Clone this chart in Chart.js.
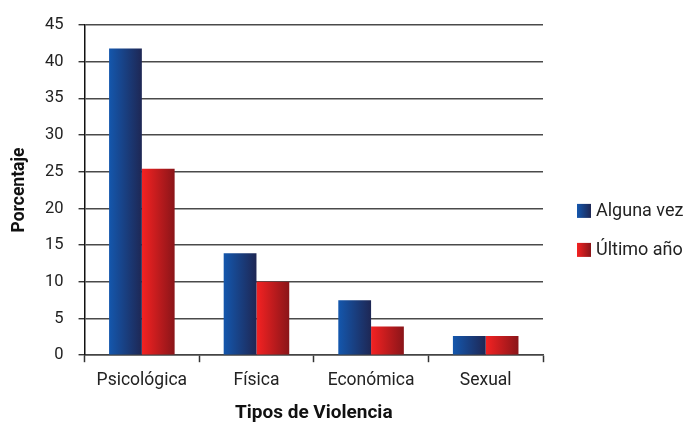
<!DOCTYPE html>
<html>
<head>
<meta charset="utf-8">
<script src="https://cdn.jsdelivr.net/npm/chart.js@4"></script>
<style>
  html, body { margin: 0; padding: 0; background: #fff; }
  #wrap { width: 688px; height: 426px; }
</style>
</head>
<body>
<div id="wrap"><canvas id="c" width="688" height="426"></canvas></div>
<script>
const categories = ['Psicológica', 'Física', 'Económica', 'Sexual'];
const seriesNames = ['Alguna vez', 'Último año'];
const algunaVez = [41.8, 13.9, 7.5, 2.6];
const ultimoAno = [25.4, 10.0, 3.9, 2.6];
const yTicks = [0, 5, 10, 15, 20, 25, 30, 35, 40, 45];

const FONT = 'Roboto, "DejaVu Sans", sans-serif';
const CAT_PCT = 0.572;
const gradStops = [
  ['#1457ad', '#1e2754'],
  ['#f42222', '#8a1519']
];

function barGradient(ctx, dsIndex) {
  const chart = ctx.chart;
  const xs = chart.scales && chart.scales.x;
  if (!chart.chartArea || !xs || ctx.dataIndex === undefined) return gradStops[dsIndex][0];
  const center = xs.getPixelForValue(ctx.dataIndex);
  const catW = xs.width / categories.length;
  const groupW = catW * CAT_PCT;
  const barW = groupW / 2;
  const left = center - groupW / 2 + dsIndex * barW;
  const g = chart.ctx.createLinearGradient(left, 0, left + barW, 0);
  g.addColorStop(0, gradStops[dsIndex][0]);
  g.addColorStop(1, gradStops[dsIndex][1]);
  return g;
}

const legendPlugin = {
  id: 'customLegend',
  afterDraw(chart) {
    const c = chart.ctx;
    const area = chart.chartArea;
    const x0 = area.right + 34;
    const ys = [area.top + 186, area.top + 225];
    c.save();
    c.font = '18px ' + FONT;
    c.textBaseline = 'middle';
    c.textAlign = 'left';
    seriesNames.forEach((name, i) => {
      const y = ys[i];
      const g = c.createLinearGradient(x0, 0, x0 + 14, 0);
      g.addColorStop(0, gradStops[i][0]);
      g.addColorStop(1, gradStops[i][1]);
      c.fillStyle = g;
      c.fillRect(x0, y - 7, 14, 14);
      c.fillStyle = '#222';
      c.fillText(name, x0 + 19, y + 1);
    });
    c.restore();
  }
};

new Chart(document.getElementById('c'), {
  type: 'bar',
  data: {
    labels: categories,
    datasets: [
      { label: seriesNames[0], data: algunaVez, backgroundColor: (ctx) => barGradient(ctx, 0), borderWidth: 0 },
      { label: seriesNames[1], data: ultimoAno, backgroundColor: (ctx) => barGradient(ctx, 1), borderWidth: 0 }
    ]
  },
  options: {
    responsive: false,
    animation: false,
    devicePixelRatio: 1,
    layout: { padding: { top: 8, right: 145, left: 9, bottom: 1 } },
    datasets: { bar: { categoryPercentage: CAT_PCT, barPercentage: 1 } },
    plugins: {
      legend: { display: false },
      tooltip: { enabled: false }
    },
    scales: {
      x: {
        offset: true,
        grid: { display: true, drawOnChartArea: false, drawTicks: true, tickLength: 7, tickColor: '#333', tickWidth: 1.5, offset: true },
        border: { display: true, color: '#444', width: 1.5 },
        ticks: { color: '#222', font: { family: FONT, size: 17.5 }, padding: 8 },
        title: { display: true, text: 'Tipos de Violencia', color: '#111', font: { family: FONT, size: 19, weight: 'bold' }, padding: { top: 3, bottom: 0 } }
      },
      y: {
        min: 0,
        max: 45,
        afterBuildTicks(axis) { axis.ticks = yTicks.map(v => ({ value: v })); },
        grid: { color: '#4a4a4a', lineWidth: 1.5, drawTicks: true, tickLength: 6, tickColor: '#111', tickWidth: 1.2 },
        border: { display: true, color: '#111', width: 1.5 },
        ticks: { color: '#222', font: { family: FONT, size: 16.5 }, padding: 15 },
        title: { display: true, text: 'Porcentaje', color: '#111', font: { family: FONT, size: 17.5, weight: 'bold' }, padding: { top: 0, bottom: 0 } }
      }
    }
  },
  plugins: [legendPlugin]
});
</script>
</body>
</html>
